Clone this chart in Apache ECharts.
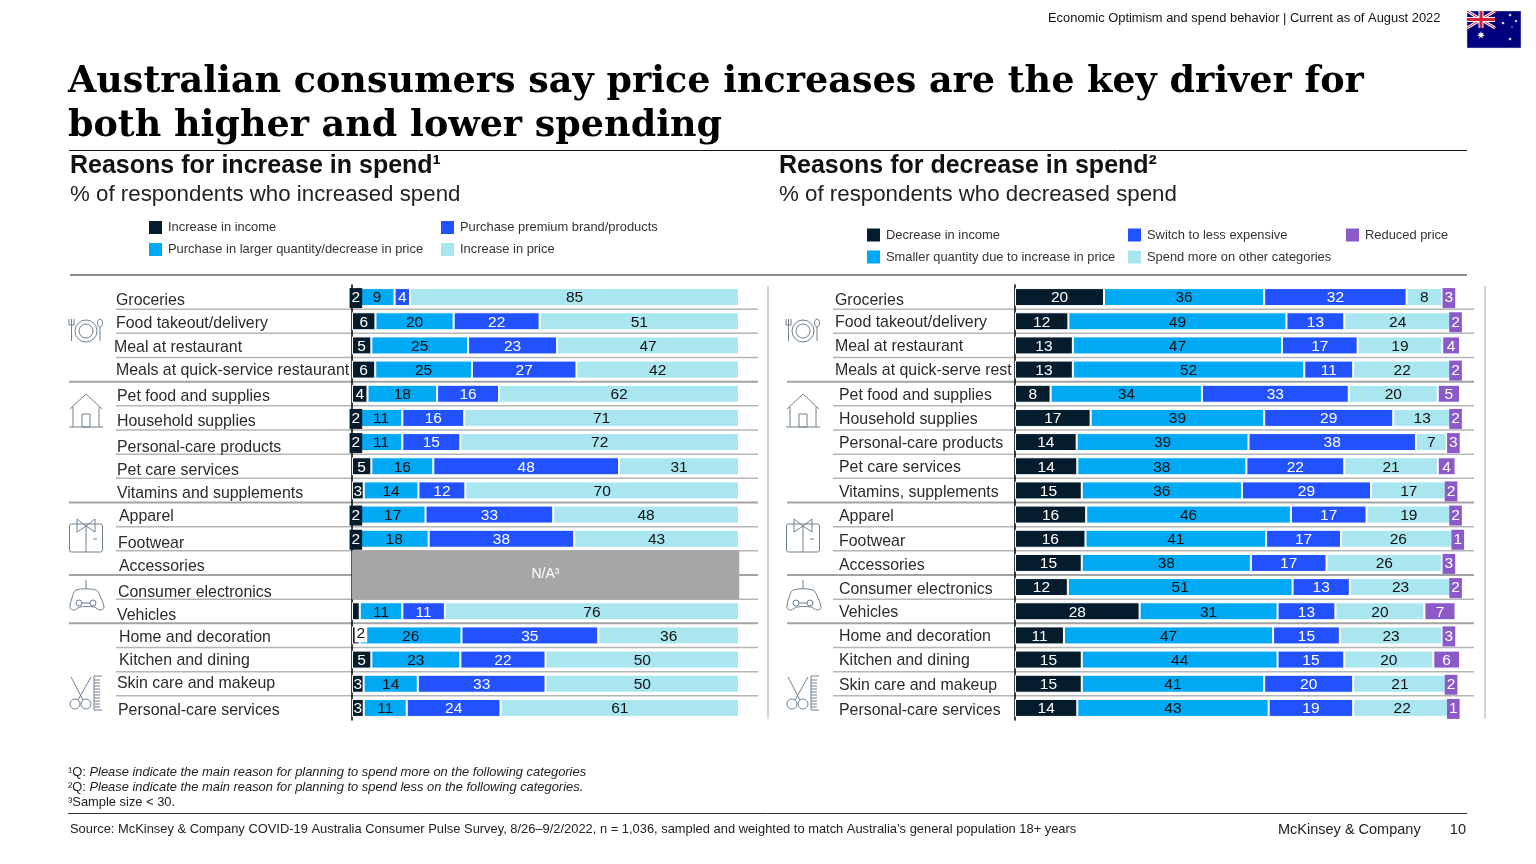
<!DOCTYPE html>
<html>
<head>
<meta charset="utf-8">
<style>html,body{margin:0;padding:0;background:#fff}#main{width:1536px;height:864px}</style>
<script src="https://cdn.jsdelivr.net/npm/echarts@6/dist/echarts.min.js"></script>
</head>
<body>
<div id="main"></div>
<script>
// categories
var incCategories = ['Groceries','Food takeout/delivery','Meal at restaurant','Meals at quick-service restaurant','Pet food and supplies','Household supplies','Personal-care products','Pet care services','Vitamins and supplements','Apparel','Footwear','Accessories','Consumer electronics','Vehicles','Home and decoration','Kitchen and dining','Skin care and makeup','Personal-care services'];
var decCategories = ['Groceries','Food takeout/delivery','Meal at restaurant','Meals at quick-serve rest','Pet food and supplies','Household supplies','Personal-care products','Pet care services','Vitamins, supplements','Apparel','Footwear','Accessories','Consumer electronics','Vehicles','Home and decoration','Kitchen and dining','Skin care and makeup','Personal-care services'];
var naRows = ['Accessories','Consumer electronics'];

// reasons for increase, % of respondents
var incIncome  = [2,6,5,6,4,2,2,5,3,2,2,null,null,2,2,5,3,3];
var incLarger  = [9,20,25,25,18,11,11,16,14,17,18,null,null,11,26,23,14,11];
var incPremium = [4,22,23,27,16,16,15,48,12,33,38,null,null,11,35,22,33,24];
var incPrice   = [85,51,47,42,62,71,72,31,70,48,43,null,null,76,36,50,50,61];

// reasons for decrease, % of respondents
var decIncome  = [20,12,13,13,8,17,14,14,15,16,16,15,12,28,11,15,15,14];
var decSmaller = [36,49,47,52,34,39,39,38,36,46,41,38,51,31,47,44,41,43];
var decSwitch  = [32,13,17,11,33,29,38,22,29,17,17,17,13,13,15,15,20,19];
var decOther   = [8,24,19,22,20,13,7,21,17,19,26,26,23,20,23,20,21,22];
var decReduced = [3,2,4,2,5,2,3,4,2,2,1,3,2,7,3,6,2,1];

var DARK = '#051C2C', SKY = '#00A9F4', BLUE = '#2251FF', LIGHT = '#AAE6F0', PURPLE = '#8C5AC8';
var FONT = '"Liberation Sans", Arial, sans-serif';

// the drawn row labels wander a little around the bar centre: [dx, dy]
var incNudge = [[0,2],[0,1],[-2,1],[0,0],[1,1],[1,2],[1,4],[1,3],[1,2],[3,1],[2,3],[3,2],[2,4],[1,3],[3,1],[3,0],[1,-2],[2,1]];
var decNudge = [[0,2],[0,0],[0,0],[0,0],[4,0],[4,0],[4,0],[4,0],[4,1],[4,1],[4,1],[4,1],[4,1],[4,0],[4,0],[4,0],[4,0],[4,1]];

function nudgeRich(nudge) {
    var rich = {};
    nudge.forEach(function (n, i) {
        var d = n[1] + 1.5;
        rich['n' + i] = {
            fontFamily: FONT, fontSize: 15.9, color: '#2b2b2b',
            padding: [d > 0 ? d * 2 : 0, 0, d < 0 ? -d * 2 : 0, n[0] + 2]
        };
    });
    return rich;
}

function yAxisFor(cats, nudge, gridIndex, margin) {
    return {
        type: 'category', data: cats, inverse: true, gridIndex: gridIndex,
        axisLine: {show: true, lineStyle: {color: '#000', width: 1.5}},
        axisTick: {show: false},
        axisLabel: {
            align: 'left', margin: margin, interval: 0,
            formatter: function (v) { return '{n' + cats.indexOf(v) + '|' + v + '}'; },
            rich: nudgeRich(nudge)
        }
    };
}

function barSeries(name, values, color, textColor, stack, axisIndex, sums, boxFrom) {
    return {
        name: name, type: 'bar', stack: stack, barWidth: 18,
        xAxisIndex: axisIndex, yAxisIndex: axisIndex,
        itemStyle: {color: color, borderColor: '#fff', borderWidth: 1},
        label: {
            show: true, position: 'inside', color: textColor, offset: [0, 1],
            fontFamily: FONT, fontSize: 15.5,
            formatter: function (p) { return p.data.raw; }
        },
        data: values.map(function (v, i) {
            if (v === null) return null;
            var item = {value: v * 100 / sums[i], raw: v};
            // slivers too thin for the number get a box of the bar colour behind it
            if (v <= boxFrom) item.label = {backgroundColor: color, padding: [2, 2, 2, 2]};
            return item;
        })
    };
}

// left hand bars all run to the same end in the picture, so rows are scaled to their own sum
var incSums = incIncome.map(function (v, i) {
    return (v || 0) + (incLarger[i] || 0) + (incPremium[i] || 0) + (incPrice[i] || 0);
});
// right hand bars keep their length, only rows whose rounded numbers overshoot 100 are pulled back
var decSums = decIncome.map(function (v, i) {
    return Math.max(100, v + decSmaller[i] + decSwitch[i] + decOther[i] + decReduced[i]);
});

var incSeries = [
    barSeries('Increase in income', incIncome, DARK, '#fff', 'inc', 0, incSums, 2),
    barSeries('Purchase in larger quantity/decrease in price', incLarger, SKY, '#111', 'inc', 0, incSums, 0),
    barSeries('Purchase premium brand/products', incPremium, BLUE, '#fff', 'inc', 0, incSums, 0),
    barSeries('Increase in price', incPrice, LIGHT, '#111', 'inc', 0, incSums, 0)
];
// Vehicles has no number on its sliver, Home and decoration has a stray white box
incSeries[0].data[13].label = {show: false};
incSeries[0].data[14].label = {backgroundColor: '#fff', color: '#111', padding: [1, 2, 1, 2], offset: [5, -2]};

var decSeries = [
    barSeries('Decrease in income', decIncome, DARK, '#fff', 'dec', 1, decSums, 0),
    barSeries('Smaller quantity due to increase in price', decSmaller, SKY, '#111', 'dec', 1, decSums, 0),
    barSeries('Switch to less expensive', decSwitch, BLUE, '#fff', 'dec', 1, decSums, 0),
    barSeries('Spend more on other categories', decOther, LIGHT, '#111', 'dec', 1, decSums, 0),
    barSeries('Reduced price', decReduced, PURPLE, '#fff', 'dec', 1, decSums, 3)
];

var naSeries = {
    type: 'custom', name: 'N/A', xAxisIndex: 0, yAxisIndex: 0,
    encode: {x: 0, y: 1},
    data: naRows.map(function (r) { return [100, r]; }),
    renderItem: function (params, api) {
        var a = api.coord([0, api.value(1)]);
        var b = api.coord([api.value(0), api.value(1)]);
        var h = api.size([0, 1])[1];
        var kids = [{type: 'rect', shape: {x: a[0], y: a[1] - h / 2, width: b[0] - a[0], height: h},
            style: {fill: '#A6A6A6', stroke: '#A6A6A6', lineWidth: 0.5}}];
        // on the lower row so that the upper rect does not paint over it
        if (params.dataIndex === 1) {
            kids.push({type: 'text', style: {
                x: (a[0] + b[0]) / 2, y: a[1] - 13, text: 'N/A³', fill: '#fff',
                font: '14px ' + FONT, align: 'center', verticalAlign: 'middle'
            }});
        }
        return {type: 'group', children: kids};
    }
};

var legendText = {fontFamily: FONT, fontSize: 12.9, color: '#333', padding: [0, 0, 0, 1]};
function legendAt(names, left, top) {
    return {
        data: names, left: left, top: top, orient: 'vertical', padding: 0,
        itemWidth: 13, itemHeight: 13, itemGap: 9, selectedMode: false,
        itemStyle: {borderWidth: 0}, textStyle: legendText, icon: 'rect'
    };
}

var chart = echarts.init(document.getElementById('main'));
chart.setOption({
    backgroundColor: '#fff',
    animation: false,
    grid: [
        {left: 352, top: 285, width: 387, height: 435},
        {left: 1015, top: 285, width: 445, height: 435}
    ],
    xAxis: [
        {type: 'value', min: 0, max: 100, show: false, gridIndex: 0},
        {type: 'value', min: 0, max: 100, show: false, gridIndex: 1}
    ],
    yAxis: [
        yAxisFor(incCategories, incNudge, 0, 238),
        yAxisFor(decCategories, decNudge, 1, 182)
    ],
    legend: [
        legendAt(['Increase in income', 'Purchase in larger quantity/decrease in price'], 149, 221),
        legendAt(['Purchase premium brand/products', 'Increase in price'], 441, 221),
        legendAt(['Decrease in income', 'Smaller quantity due to increase in price'], 867, 228.5),
        legendAt(['Switch to less expensive', 'Spend more on other categories'], 1128, 228.5),
        legendAt(['Reduced price'], 1346, 228.5)
    ],
    series: incSeries.concat(decSeries, [naSeries])
});

// ---- everything around the plots ----
function txt(x, y, text, size, opts) {
    opts = opts || {};
    return {type: 'text', silent: true, style: {
        x: x, y: y, text: text, fill: opts.fill || '#111',
        font: (opts.weight || '') + ' ' + size + 'px ' + (opts.family || FONT),
        align: opts.align || 'left', verticalAlign: 'middle', rich: opts.rich
    }};
}
function line(x1, y1, x2, y2, color, w) {
    return {type: 'line', silent: true, shape: {x1: x1, y1: y1, x2: x2, y2: y2}, style: {stroke: color, lineWidth: w}};
}

var items = [];
var SERIF = '"DejaVu Serif", serif';
items.push(txt(1048, 18, 'Economic Optimism and spend behavior | Current as of August 2022', 12.9));
items.push(txt(68, 83, 'Australian consumers say price increases are the key driver for', 36.5, {weight: 'bold', family: SERIF, fill: '#000'}));
items.push(txt(68, 127, 'both higher and lower spending', 36.5, {weight: 'bold', family: SERIF, fill: '#000'}));
items.push(line(69, 150.5, 1467, 150.5, '#111', 1));
items.push(txt(70, 166, 'Reasons for increase in spend¹', 25, {weight: 'bold'}));
items.push(txt(70, 195, '% of respondents who increased spend', 22.3, {fill: '#222'}));
items.push(txt(779, 166, 'Reasons for decrease in spend²', 25, {weight: 'bold'}));
items.push(txt(779, 195, '% of respondents who decreased spend', 22.3, {fill: '#222'}));
items.push(line(70, 275, 1467, 275, '#8c8c8c', 2));

var footRich = {i: {font: 'italic 12.9px ' + FONT, fill: '#222'}, r: {font: '12.9px ' + FONT, fill: '#222'}};
items.push(txt(68, 772, '{r|¹Q: }{i|Please indicate the main reason for planning to spend more on the following categories}', 12.9, {rich: footRich}));
items.push(txt(68, 787, '{r|²Q: }{i|Please indicate the main reason for planning to spend less on the following categories.}', 12.9, {rich: footRich}));
items.push(txt(68, 802, '³Sample size < 30.', 12.9, {fill: '#222'}));
items.push(line(68, 813.5, 1467, 813.5, '#333', 1));
items.push(txt(70, 829, 'Source: McKinsey & Company COVID-19 Australia Consumer Pulse Survey, 8/26–9/2/2022, n = 1,036, sampled and weighted to match Australia’s general population 18+ years', 12.9, {fill: '#222'}));
items.push(txt(1278, 830, 'McKinsey & Company', 14.5, {fill: '#222'}));
items.push(txt(1466, 830, '10', 14.5, {fill: '#222', align: 'right'}));

// panel dividers
items.push(line(768, 286, 768, 719, '#c4c4c4', 1.5));
items.push(line(1485, 286, 1485, 719, '#c4c4c4', 1.5));

// row rules
var sectionEnds = [3, 8, 11, 13];
incCategories.slice(0, -1).forEach(function (c, i) {
    var yL = chart.convertToPixel({yAxisIndex: 0}, i) + chart.getModel().getComponent('yAxis', 0).axis.getBandWidth() / 2;
    var section = sectionEnds.indexOf(i) >= 0;
    items.push(line(section ? 69 : 116, yL, 758, yL, section ? '#a3a3a3' : '#b5b5b5', section ? 2 : 1.5));
    items.push(line(section ? 787 : 833, yL, 1474, yL, section ? '#a3a3a3' : '#b5b5b5', section ? 2 : 1.5));
});

// icons, drawn once at the left coordinates and shifted across for the right panel
var ICON = '#6f8092';
function iconShapes() {
    var s = {stroke: ICON, lineWidth: 1, fill: 'none'};
    function circ(x, y, r) { return {type: 'circle', shape: {cx: x, cy: y, r: r}, style: s}; }
    function poly(pts) { return {type: 'polyline', shape: {points: pts}, style: s}; }
    function box(x, y, w, h, r) { return {type: 'rect', shape: {x: x, y: y, width: w, height: h, r: r || 0}, style: s}; }
    var out = [
        // plate and cutlery
        circ(86, 331, 11), circ(86, 331, 7),
        poly([[69, 319], [69, 325], [74, 325], [74, 319]]), poly([[71.5, 319], [71.5, 341]]),
        {type: 'ellipse', shape: {cx: 100, cy: 323, rx: 2.5, ry: 4}, style: s}, poly([[100, 327], [100, 341]]),
        // house
        poly([[70, 409], [86, 394], [102, 409]]), poly([[73, 407], [73, 427]]), poly([[99, 407], [99, 427]]),
        poly([[69, 427], [103, 427]]), box(82, 414, 8, 13),
        // shirt
        box(69.5, 524, 33, 28, 2), poly([[86, 526], [86, 552]]), poly([[93, 539], [97, 539]]),
        poly([[77, 519], [77, 532], [86, 526], [95, 532], [95, 519], [86, 526], [77, 519]]),
        // game pad
        poly([[86, 580], [86, 589]]),
        {type: 'polygon', shape: {smooth: 0.3, points: [[76, 590], [96, 590], [101, 598], [104, 608], [100, 610], [94, 607], [80, 607], [74, 610], [70, 608], [72, 598]]}, style: s},
        circ(79, 603, 3), circ(93, 603, 3), poly([[82, 603], [90, 603]]),
        // scissors and comb
        circ(75, 704, 5), circ(86, 704, 5), poly([[78, 700], [91, 677]]), poly([[83, 700], [71, 677]]),
        poly([[94, 676], [94, 710], [102, 710]]), poly([[94, 676], [102, 676]])
    ];
    for (var y = 680; y < 710; y += 3) out.push(poly([[94, y], [100, y]]));
    return out;
}
items.push({type: 'group', silent: true, children: iconShapes()});
items.push({type: 'group', silent: true, x: 717, children: iconShapes()});

// flag
function star(cx, cy, r, n) {
    var pts = [];
    for (var k = 0; k < n * 2; k++) {
        var a = -Math.PI / 2 + k * Math.PI / n, q = k % 2 ? r * 0.45 : r;
        pts.push([cx + q * Math.cos(a), cy + q * Math.sin(a)]);
    }
    return {type: 'polygon', shape: {points: pts}, style: {fill: '#fff'}};
}
items.push({type: 'group', silent: true, children: [
    {type: 'rect', shape: {x: 1467, y: 11, width: 54, height: 37}, style: {fill: '#00007e', stroke: '#d5d5e5', lineWidth: 0.5}},
    line(1467, 11, 1495, 28, '#fff', 3), line(1495, 11, 1467, 28, '#fff', 3),
    line(1467, 11, 1495, 28, '#d5203a', 1), line(1495, 11, 1467, 28, '#d5203a', 1),
    line(1481, 11, 1481, 28, '#fff', 5), line(1467, 19.5, 1495, 19.5, '#fff', 5),
    line(1481, 11, 1481, 28, '#d5203a', 3), line(1467, 19.5, 1495, 19.5, '#d5203a', 3),
    star(1481, 35, 4, 7), star(1510, 15, 1.8, 7), star(1503, 23, 1.8, 7), star(1516, 21, 1.6, 7), star(1510, 39, 1.8, 7), star(1512, 27, 1, 5)
]});

chart.setOption({graphic: {elements: items}});
</script>
</body>
</html>
